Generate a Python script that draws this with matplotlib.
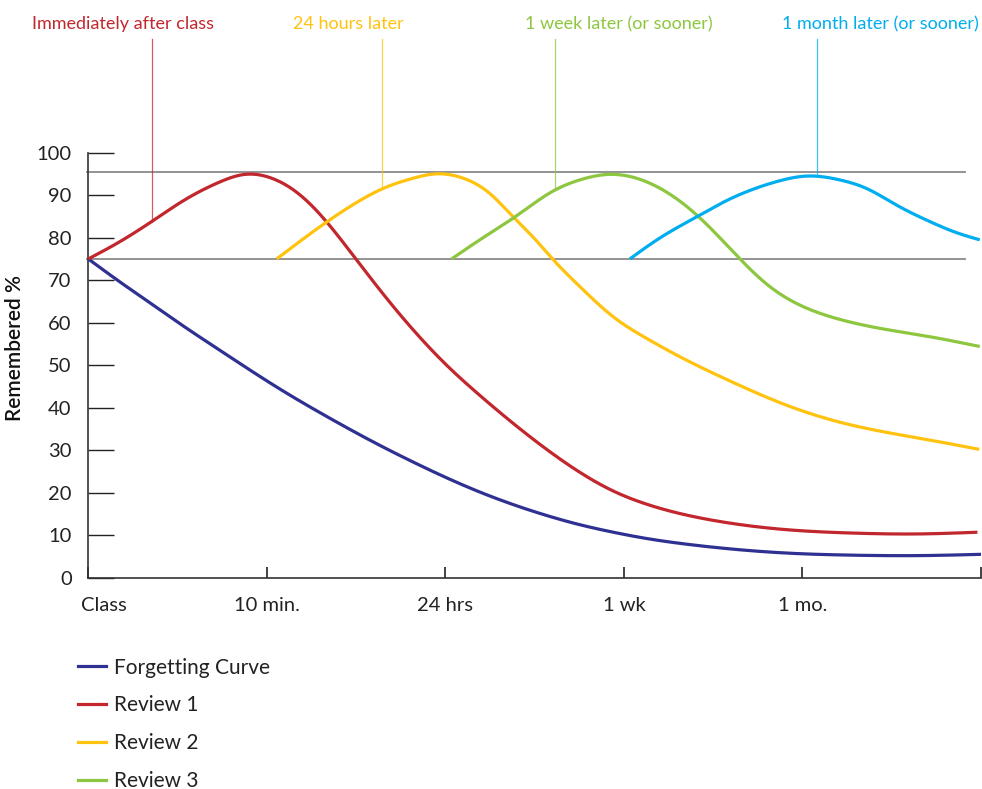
import numpy as np
import matplotlib.pyplot as plt
from matplotlib.lines import Line2D
from matplotlib.transforms import ScaledTranslation

# values (x: 0=Class, 1=10 min, 2=24 hrs, 3=1 wk, 4=1 mo)
forget_x = [0, 0.17, 0.355, 0.54, 0.73, 0.915, 1.10, 1.32, 1.63, 1.82, 2.007, 2.19, 2.38,
            2.57, 2.75, 2.94, 3.13, 3.31, 3.54, 3.91, 4.28, 4.66, 5.0]
forget_y = [75, 69.8, 64.4, 59.0, 53.7, 48.6, 43.7, 38.3, 31.2, 27.2, 23.5, 20.2, 17.2,
            14.6, 12.5, 10.7, 9.2, 8.1, 7.0, 5.8, 5.3, 5.2, 5.5]

rev1_x = [0, 0.17, 0.355, 0.54, 0.73, 0.877, 1.027, 1.176, 1.325, 1.475, 1.66, 1.82, 2.007,
          2.19, 2.38, 2.567, 2.753, 2.94, 3.127, 3.313, 3.54, 3.91, 4.28, 4.66, 4.98]
rev1_y = [75, 78.9, 83.8, 88.9, 93.0, 94.9, 94.0, 90.4, 84.2, 76.3, 66.3, 58.3, 50.0,
          43.0, 36.3, 30.2, 24.8, 20.4, 17.3, 15.1, 13.2, 11.3, 10.5, 10.3, 10.7]

rev2_x = [1.055, 1.325, 1.48, 1.652, 1.82, 1.94, 2.10, 2.249, 2.38, 2.49, 2.60, 2.753, 2.94,
          3.127, 3.313, 3.593, 3.91, 4.19, 4.47, 4.75, 4.99]
rev2_y = [75, 83.4, 87.7, 91.6, 94.0, 95.0, 94.0, 90.4, 84.9, 80.2, 75.0, 68.5, 61.4,
          56.3, 52.0, 46.3, 40.6, 36.8, 34.2, 32.1, 30.2]

rev3_x = [2.035, 2.193, 2.38, 2.613, 2.753, 2.921, 3.07, 3.22, 3.39, 3.50, 3.65, 3.817,
          4.003, 4.19, 4.43, 4.713, 4.993]
rev3_y = [75, 79.5, 84.6, 91.2, 93.6, 94.9, 94.0, 91.2, 86.0, 81.6, 75.0, 68.5,
          63.8, 61.0, 58.7, 56.7, 54.4]

rev4_x = [3.033, 3.20, 3.407, 3.593, 3.686, 3.873, 4.022, 4.209, 4.358, 4.526, 4.713,
          4.862, 4.993]
rev4_y = [75, 79.9, 84.9, 89.1, 90.8, 93.4, 94.5, 93.6, 91.6, 87.7, 83.8, 81.2, 79.5]

x_ticks = [0, 1, 2, 3, 4, 5]
x_labels = ["Class", "10 min.", "24 hrs", "1 wk", "1 mo.", ""]
y_ticks = list(range(0, 101, 10))
band = [75, 95.5]

notes = ["Immediately after class", "24 hours later", "1 week later (or sooner)",
         "1 month later (or sooner)"]
note_x = [0.355, 1.646, 2.613, 4.08]
note_text_x = [0.194, 1.454, 2.971, 4.99]
note_ha = ['center', 'center', 'center', 'right']

navy = "#2e3192"
red = "#c1272d"
yellow = "#ffc20e"
green = "#8dc63f"
cyan = "#00aeef"


def smooth(x, y, n=400):
    # natural cubic spline through the read points, only for drawing
    x = np.asarray(x, float)
    y = np.asarray(y, float)
    k = len(x)
    h = np.diff(x)
    A = np.zeros((k, k))
    r = np.zeros(k)
    A[0, 0] = A[-1, -1] = 1
    for i in range(1, k - 1):
        A[i, i - 1] = h[i - 1]
        A[i, i] = 2 * (h[i - 1] + h[i])
        A[i, i + 1] = h[i]
        r[i] = 6 * ((y[i + 1] - y[i]) / h[i] - (y[i] - y[i - 1]) / h[i - 1])
    m = np.linalg.solve(A, r)
    xs = np.linspace(x[0], x[-1], n)
    j = np.clip(np.searchsorted(x, xs) - 1, 0, k - 2)
    a = x[j + 1] - xs
    b = xs - x[j]
    hj = h[j]
    ys = (m[j] * a ** 3 / (6 * hj) + m[j + 1] * b ** 3 / (6 * hj)
          + (y[j] / hj - m[j] * hj / 6) * a + (y[j + 1] / hj - m[j + 1] * hj / 6) * b)
    return xs, ys


plt.rcParams['font.family'] = ['Lato', 'DejaVu Sans']

fig = plt.figure(figsize=(9.82, 7.89), dpi=100)
ax = fig.add_axes([88.3 / 982, 1 - 577.7 / 789, (981 - 88.3) / 982, (577.7 - 152.7) / 789])

for b in band:
    ax.plot([-0.01, 4.91], [b, b], color="#8a8a8a", lw=1.3, zorder=1, clip_on=False)

series = [(forget_x, forget_y, navy, "Forgetting Curve"),
          (rev1_x, rev1_y, red, "Review 1"),
          (rev2_x, rev2_y, yellow, "Review 2"),
          (rev3_x, rev3_y, green, "Review 3"),
          (rev4_x, rev4_y, cyan, "Review 4")]
for sx, sy, c, name in series:
    xs, ys = smooth(sx, sy)
    ax.plot(xs, ys, color=c, lw=2.3, solid_capstyle='butt', zorder=3, clip_on=False)

# leader lines and notes above the plot
note_colors = [red, yellow, green, cyan]
note_src = series[1:]
for i in range(4):
    xs, ys = smooth(note_src[i][0], note_src[i][1])
    y0 = np.interp(note_x[i], xs, ys)
    ax.plot([note_x[i], note_x[i]], [y0, 126.7], color=note_colors[i], lw=0.9,
            alpha=0.75, clip_on=False, zorder=2)
    ax.text(note_text_x[i], 129.1, notes[i], color=note_colors[i], fontsize=13,
            ha=note_ha[i], va='baseline', clip_on=False)

ax.set_xlim(0, 5)
ax.set_ylim(0, 100)
for s in ['top', 'right']:
    ax.spines[s].set_visible(False)
for s in ['left', 'bottom']:
    ax.spines[s].set_color("#333333")
    ax.spines[s].set_linewidth(1.2)

ax.set_yticks(y_ticks)
ax.set_xticks(x_ticks)
ax.set_xticklabels(x_labels)
ax.tick_params(axis='y', direction='in', length=19, width=1.0, color="#222222",
               labelsize=14.5, labelcolor="#222222", pad=12)
ax.tick_params(axis='x', direction='in', length=8, width=1.2, color="#222222",
               labelsize=14.5, labelcolor="#222222", pad=14)
lbl = ax.get_xticklabels()[0]
lbl.set_transform(lbl.get_transform() + ScaledTranslation(0.16, 0, fig.dpi_scale_trans))

ax.set_ylabel("Remembered %", fontsize=15, fontweight='semibold', color="#111111")
ax.yaxis.set_label_coords(-0.071, 0.54)

handles = [Line2D([], [], color=c, lw=2.3) for _, _, c, _ in series[:4]]
names = [n for _, _, _, n in series[:4]]
fig.legend(handles, names, loc='upper left', bbox_to_anchor=(59 / 982, 1 - 639 / 789),
           frameon=False, fontsize=15, handlelength=1.35, handletextpad=0.4,
           labelspacing=0.85, labelcolor="#222222")

fig.savefig("out.png", dpi=100)
